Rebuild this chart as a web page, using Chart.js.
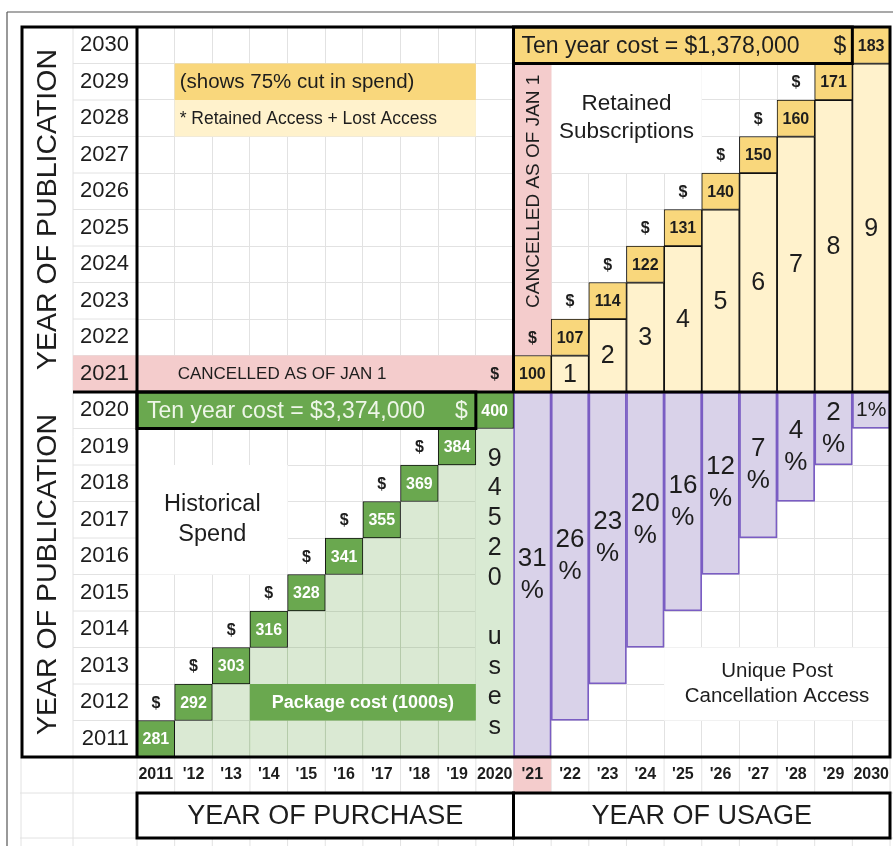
<!DOCTYPE html>
<html>
<head>
<meta charset="utf-8">
<script src="https://cdn.jsdelivr.net/npm/chart.js@4.4.1/dist/chart.umd.min.js"></script>
<style>
  html, body { margin: 0; padding: 0; background: #fff; }
  #wrap { width: 893px; height: 846px; }
</style>
</head>
<body>
<div id="wrap"><canvas id="grid" width="893" height="846"></canvas></div>
<script>
// ---- data ----------------------------------------------------------------
// Publication years (rows) and purchase / usage years (columns)
const years = [2011, 2012, 2013, 2014, 2015, 2016, 2017, 2018, 2019, 2020,
               2021, 2022, 2023, 2024, 2025, 2026, 2027, 2028, 2029, 2030];
const xTickLabels = ['2011', "'12", "'13", "'14", "'15", "'16", "'17", "'18", "'19", '2020',
                     "'21", "'22", "'23", "'24", "'25", "'26", "'27", "'28", "'29", '2030'];

// Historical package spend, $1000s per purchase year
const purchaseYears = [2011, 2012, 2013, 2014, 2015, 2016, 2017, 2018, 2019, 2020];
const packageCost   = [281, 292, 303, 316, 328, 341, 355, 369, 384, 400];
const historicalTenYearCost = 3374000;
const usesIn2020 = 94520;

// Retained subscriptions after cancellation, $1000s per usage year
const usageYears   = [2021, 2022, 2023, 2024, 2025, 2026, 2027, 2028, 2029, 2030];
const retainedCost = [100, 107, 114, 122, 131, 140, 150, 160, 171, 183];
const retainedTenYearCost = 1378000;
// years of retained content held by each usage year (2022 .. 2030)
const retainedYearsHeld = [1, 2, 3, 4, 5, 6, 7, 8, 9];

// Share of usage that is unique post-cancellation access, per usage year
const postCancelAccessPct = [31, 26, 23, 20, 16, 12, 7, 4, 2, 1];

// ---- look ---------------------------------------------------------------
const FONT = "'Liberation Sans', Arial, Helvetica, sans-serif";
Chart.defaults.font.family = FONT;
const C = {
  grid: '#e2e2e2',
  ink: '#1d1d1d',
  green: '#6aa84f',
  greenWash: 'rgba(106,168,79,0.25)',
  greenSolid: '#d9ead3',
  greenText: '#eef6e8',
  yellow: '#f9d77c',
  yellowLight: '#fff2cc',
  pink: '#f4cccc',
  lilac: '#d9d2e9',
  purple: '#7a5dc3'
};
const TITLE_COL = 51;   // rotated axis-title column, left of the year labels
const TITLE_ROW = 45;   // axis-title box row, under the tick labels
const HEAVY = 3;

const half = 0.5;
const firstYear = years[0];
const cancelYear = usageYears[0];
const lastPurchase = purchaseYears[purchaseYears.length - 1];

const money = v => '$' + v.toLocaleString('en-US');

// ---- datasets -----------------------------------------------------------
const barBase = { grouped: false, barPercentage: 1, categoryPercentage: 1, borderSkipped: false };

const datasets = [
  Object.assign({
    label: 'Package cost',
    order: 1,
    data: purchaseYears.map(yr => ({ x: yr, y: [yr - half, yr + half] })),
    backgroundColor: C.green, borderColor: '#111', borderWidth: 1,
    cellText: packageCost.map(String),
    cellStyle: { size: 16, weight: 'bold', color: '#ffffff' }
  }, barBase),
  Object.assign({
    label: 'Retained cost',
    order: 1,
    data: usageYears.map(yr => ({ x: yr, y: [yr - half, yr + half] })),
    backgroundColor: C.yellow, borderColor: '#111', borderWidth: 1,
    cellText: retainedCost.map(String),
    cellStyle: { size: 16, weight: 'bold', color: C.ink }
  }, barBase),
  Object.assign({
    label: 'Unique post cancellation access',
    order: 3,
    data: usageYears.map(yr => ({ x: yr, y: [yr - (cancelYear - firstYear) - half, cancelYear - half] })),
    backgroundColor: C.lilac, borderColor: C.purple, borderWidth: 1.75,
    cellText: postCancelAccessPct.map(v => v + '%'),
    cellStyle: { size: 26, weight: 'normal', color: C.ink, wrap: true, lineHeight: 32 }
  }, barBase),
  Object.assign({
    label: 'Retained years',
    order: 4,
    data: usageYears.slice(1).map(yr => ({ x: yr, y: [cancelYear - half, yr - half] })),
    backgroundColor: C.yellowLight, borderColor: '#111', borderWidth: 1.25,
    cellText: retainedYearsHeld.map(String),
    cellStyle: { size: 25, weight: 'normal', color: C.ink }
  }, barBase),
  Object.assign({
    label: 'Cancelled',
    order: 5,
    data: [{ x: cancelYear, y: [cancelYear + half, years[years.length - 1] - half] }],
    backgroundColor: C.pink, borderWidth: 0
  }, barBase),
  Object.assign({
    label: 'Backfile under package',
    order: 6,
    data: purchaseYears.slice(1).map(yr => ({ x: yr, y: [firstYear - half, yr - half] })),
    backgroundColor: c => (c.raw && c.raw.x === lastPurchase) ? C.greenSolid : C.greenWash,
    borderWidth: 0
  }, barBase)
];

// ---- drawing helpers ----------------------------------------------------
function txt(ctx, s, x, y, o = {}) {
  ctx.save();
  ctx.font = `${o.weight || 'normal'} ${o.size || 16}px ${FONT}`;
  ctx.fillStyle = o.color || C.ink;
  ctx.textAlign = o.align || 'center';
  ctx.textBaseline = 'middle';
  ctx.translate(x, y);
  if (o.rotate) ctx.rotate(o.rotate);
  ctx.fillText(s, 0, 0);
  ctx.restore();
}
function lines(ctx, arr, x, cy, lh, o) {
  const top = cy - (arr.length - 1) * lh / 2;
  arr.forEach((s, i) => txt(ctx, s, x, top + i * lh, o));
}
function rect(ctx, x0, y0, x1, y1, fill, stroke, lw) {
  ctx.save();
  if (fill) { ctx.fillStyle = fill; ctx.fillRect(x0, y0, x1 - x0, y1 - y0); }
  if (stroke) { ctx.strokeStyle = stroke; ctx.lineWidth = lw; ctx.strokeRect(x0, y0, x1 - x0, y1 - y0); }
  ctx.restore();
}
function line(ctx, x0, y0, x1, y1, color, lw) {
  ctx.save();
  ctx.strokeStyle = color; ctx.lineWidth = lw;
  ctx.beginPath(); ctx.moveTo(x0, y0); ctx.lineTo(x1, y1); ctx.stroke();
  ctx.restore();
}
function geo(chart) {
  const xs = chart.scales.x, ys = chart.scales.y;
  const X = v => xs.getPixelForValue(v), Y = v => ys.getPixelForValue(v);
  return {
    X, Y, xs, ys,
    colL: c => X(c - half), colR: c => X(c + half),
    rowT: r => Y(r + half), rowB: r => Y(r - half),
    frameL: ys.left - TITLE_COL,
    titleT: xs.bottom, titleB: xs.bottom + TITLE_ROW
  };
}

// ---- table plugin: cells, notes, labels and rules around the data bars ----
const tablePlugin = {
  id: 'licenceTable',
  beforeDraw(chart) {
    const ctx = chart.ctx, g = geo(chart);
    const W = chart.width, H = chart.height;
    rect(ctx, 0, 0, W, H, '#ffffff');
    // faint sheet grid outside the plotting area
    const top = g.rowT(years[years.length - 1]);
    years.forEach(r => line(ctx, g.ys.left, g.rowT(r), g.ys.right, g.rowT(r), C.grid, 1));
    line(ctx, g.ys.left, top, g.ys.left, H, C.grid, 1);
    line(ctx, g.frameL - 1, g.xs.top, g.frameL - 1, H, C.grid, 1);
    years.forEach(c => line(ctx, g.colL(c), g.xs.top, g.colL(c), H, C.grid, 1));
    line(ctx, g.colR(years[years.length - 1]), g.xs.top, g.colR(years[years.length - 1]), H, C.grid, 1);
    [g.titleT, g.titleB].forEach(y => line(ctx, g.frameL - 2, y, W, y, C.grid, 1));
    // pink label cells for the cancellation year
    rect(ctx, g.ys.left, g.rowT(cancelYear), g.ys.right, g.rowB(cancelYear), C.pink);
    rect(ctx, g.colL(cancelYear), g.xs.top, g.colR(cancelYear), g.titleT, C.pink);
    // outer sheet frame
    line(ctx, 7, 12, W, 12, '#555', 1.2);
    line(ctx, 7, 12, 7, H, '#555', 1.2);
  },
  beforeDatasetsDraw(chart) {
    const ctx = chart.ctx, g = geo(chart);
    // cancellation row
    rect(ctx, g.colL(firstYear), g.rowT(cancelYear), g.colR(lastPurchase), g.rowB(cancelYear), C.pink);
    // merged note cells hide the sheet grid
    rect(ctx, g.colL(2011), g.rowT(2018), g.colR(2014), g.rowB(2016), '#fff');
    rect(ctx, g.colL(2022), g.rowT(2029), g.colR(2025), g.rowB(2027), '#fff');
    rect(ctx, g.colL(2025), g.rowT(2013), g.colR(2030), g.rowB(2012), '#fff');
    // key boxes
    rect(ctx, g.colL(2012), g.rowT(2029), g.colR(2019), g.rowB(2029), C.yellow);
    rect(ctx, g.colL(2012), g.rowT(2028), g.colR(2019), g.rowB(2028), C.yellowLight);
  },
  afterDatasetsDraw(chart) {
    const ctx = chart.ctx, g = geo(chart);
    const mid = r => (g.rowT(r) + g.rowB(r)) / 2;
    const cx = c => (g.colL(c) + g.colR(c)) / 2;

    // values inside the bars
    chart.data.datasets.forEach((ds, i) => {
      if (!ds.cellText) return;
      const st = ds.cellStyle;
      chart.getDatasetMeta(i).data.forEach((bar, j) => {
        const p = bar.getProps(['x', 'y', 'base', 'width'], true);
        const cy = (p.y + p.base) / 2;
        const s = ds.cellText[j];
        ctx.font = `${st.weight} ${st.size}px ${FONT}`;
        const w = ctx.measureText(s).width;
        if (st.wrap && w > p.width - 4) {
          if (Math.abs(p.base - p.y) >= 2 * st.lineHeight) {
            lines(ctx, [s.slice(0, -1), s.slice(-1)], p.x, cy, st.lineHeight, st);
          } else {
            const size = Math.floor(st.size * (p.width - 7) / w);
            txt(ctx, s, p.x, cy, Object.assign({}, st, { size }));
          }
        } else {
          txt(ctx, s, p.x, cy + 1, st);
        }
      });
    });

    // "$" marks beside each year's cost cell
    const dollar = { size: 16, weight: 'bold', color: C.ink };
    purchaseYears.forEach(yr => {
      if (yr > firstYear && yr < lastPurchase) txt(ctx, '$', cx(yr - 1), mid(yr) + 1, dollar);
    });
    usageYears.forEach(yr => {
      if (yr < usageYears[usageYears.length - 1]) txt(ctx, '$', cx(yr - 1), mid(yr) + 1, dollar);
    });

    // ten-year cost banners
    const gB = [g.colL(firstYear), g.rowT(lastPurchase), g.colR(lastPurchase - 1), g.rowB(lastPurchase)];
    rect(ctx, gB[0], gB[1], gB[2], gB[3], C.green);
    txt(ctx, 'Ten year cost = ' + money(historicalTenYearCost), gB[0] + 10, mid(lastPurchase) + 1,
        { size: 23, color: C.greenText, align: 'left' });
    txt(ctx, '$', gB[2] - 8, mid(lastPurchase) + 1, { size: 23, color: C.greenText, align: 'right' });
    rect(ctx, gB[0], gB[1], gB[2], gB[3], null, '#000', HEAVY);

    const lastUse = usageYears[usageYears.length - 1];
    const yB = [g.colL(cancelYear), g.rowT(lastUse), g.colR(lastUse - 1), g.rowB(lastUse)];
    rect(ctx, yB[0], yB[1], yB[2], yB[3], C.yellow);
    txt(ctx, 'Ten year cost = ' + money(retainedTenYearCost), yB[0] + 8, mid(lastUse) + 1,
        { size: 23, color: C.ink, align: 'left' });
    txt(ctx, '$', yB[2] - 6, mid(lastUse) + 1, { size: 23, color: C.ink, align: 'right' });
    rect(ctx, yB[0], yB[1], yB[2], yB[3], null, '#000', HEAVY);

    // package cost key
    rect(ctx, g.colL(2014), g.rowT(2012), g.colR(2019), g.rowB(2012), C.green);
    txt(ctx, 'Package cost (1000s)', (g.colL(2014) + g.colR(2019)) / 2, mid(2012) + 1,
        { size: 18, weight: 'bold', color: '#fff' });

    // key text
    txt(ctx, '(shows 75% cut in spend)', g.colL(2012) + 5, mid(2029) + 1, { size: 20.5, align: 'left' });
    txt(ctx, '* Retained Access + Lost Access', g.colL(2012) + 5, mid(2028) + 1, { size: 17.5, align: 'left' });

    // block notes
    lines(ctx, ['Historical', 'Spend'], (g.colL(2011) + g.colR(2014)) / 2, (g.rowT(2018) + g.rowB(2016)) / 2, 30, { size: 23.5 });
    lines(ctx, ['Retained', 'Subscriptions'], (g.colL(2022) + g.colR(2025)) / 2, (g.rowT(2029) + g.rowB(2027)) / 2, 28, { size: 22.5 });
    lines(ctx, ['Unique Post', 'Cancellation Access'], (g.colL(2025) + g.colR(2030)) / 2, (g.rowT(2013) + g.rowB(2012)) / 2, 25, { size: 20.5 });

    // cancellation notes
    txt(ctx, 'CANCELLED AS OF JAN 1', g.colL(2012) + 3, mid(cancelYear) + 1, { size: 17, align: 'left' });
    txt(ctx, 'CANCELLED AS OF JAN 1', cx(cancelYear) + 1, (g.rowT(2029) + g.rowB(2023)) / 2, { size: 19, rotate: -Math.PI / 2 });

    // 2020 uses, stacked one character per line
    const chars = (usesIn2020 + ' uses').split('');
    lines(ctx, chars, cx(lastPurchase), mid(2015), 29.8, { size: 25 });

    // heavy rules
    const L = g.frameL, R = g.colR(years[years.length - 1]);
    const T = g.rowT(years[years.length - 1]), B = g.rowB(firstYear);
    rect(ctx, L, T, R, B, null, '#000', HEAVY);
    line(ctx, g.colL(firstYear), T, g.colL(firstYear), B, '#000', HEAVY);
    line(ctx, g.ys.left, g.rowB(cancelYear), R, g.rowB(cancelYear), '#000', HEAVY);
    line(ctx, g.colL(cancelYear), T, g.colL(cancelYear), g.rowB(cancelYear), '#000', HEAVY);

    // axis titles
    rect(ctx, g.colL(firstYear), g.titleT, g.colL(cancelYear), g.titleB, '#fff', '#000', HEAVY);
    rect(ctx, g.colL(cancelYear), g.titleT, R, g.titleB, '#fff', '#000', HEAVY);
    txt(ctx, 'YEAR OF PURCHASE', (g.colL(firstYear) + g.colL(cancelYear)) / 2, (g.titleT + g.titleB) / 2 + 1, { size: 27 });
    txt(ctx, 'YEAR OF USAGE', (g.colL(cancelYear) + R) / 2, (g.titleT + g.titleB) / 2 + 1, { size: 27 });
    const tx = (L + g.ys.left) / 2 + 1;
    txt(ctx, 'YEAR OF PUBLICATION', tx, (T + g.rowB(cancelYear)) / 2, { size: 28.5, rotate: -Math.PI / 2 });
    txt(ctx, 'YEAR OF PUBLICATION', tx, (g.rowB(cancelYear) + B) / 2, { size: 28.5, rotate: -Math.PI / 2 });
  }
};

// ---- chart --------------------------------------------------------------
const yearTicks = scale => { scale.ticks = years.map(v => ({ value: v })); };

new Chart(document.getElementById('grid'), {
  type: 'bar',
  data: { datasets },
  options: {
    responsive: false,
    animation: false,
    events: [],
    layout: { autoPadding: false, padding: { left: 73, right: 3, top: 27, bottom: 53 } },
    plugins: { legend: { display: false }, tooltip: { enabled: false } },
    scales: {
      x: {
        type: 'linear', min: 2010.5, max: 2030.5, offset: false,
        afterBuildTicks: yearTicks,
        afterFit: s => { s.height = 36; s.paddingLeft = 0; s.paddingRight = 0; },
        grid: { offset: true, color: C.grid, drawTicks: false },
        border: { display: false },
        ticks: {
          autoSkip: false, maxRotation: 0, minRotation: 0, padding: 8, color: C.ink,
          font: { size: 16, weight: 'bold' },
          callback: v => xTickLabels[years.indexOf(v)]
        }
      },
      y: {
        type: 'linear', min: 2010.5, max: 2030.5,
        afterBuildTicks: yearTicks,
        afterFit: s => { s.width = 64; s.paddingTop = 0; s.paddingBottom = 0; },
        grid: { offset: true, color: C.grid, drawTicks: false },
        border: { display: false },
        ticks: {
          autoSkip: false, padding: 8, color: C.ink,
          font: { size: 22 },
          callback: v => String(v)
        }
      }
    }
  },
  plugins: [tablePlugin]
});
</script>
</body>
</html>
